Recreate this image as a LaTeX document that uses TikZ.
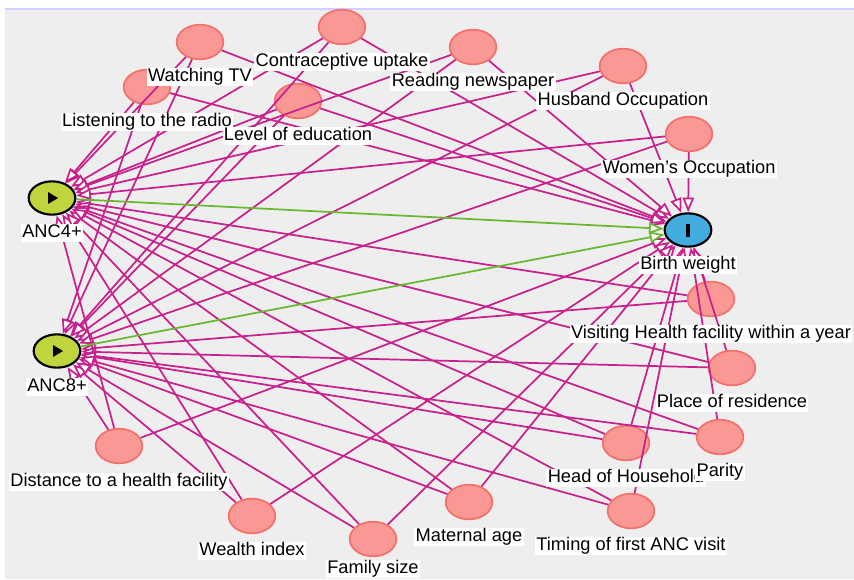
\documentclass[tikz,border=0pt]{standalone}
\usepackage{fontspec}
\setmainfont{Liberation Sans}
\usetikzlibrary{shapes.geometric,arrows.meta}
\definecolor{bgc}{RGB}{238,238,238}
\definecolor{topline}{RGB}{208,208,255}
\definecolor{covfill}{RGB}{250,152,150}
\definecolor{covline}{RGB}{244,112,106}
\definecolor{edgec}{RGB}{200,32,140}
\definecolor{causec}{RGB}{104,184,48}
\definecolor{expfill}{RGB}{192,212,62}
\definecolor{outfill}{RGB}{66,172,222}
\begin{document}
\begin{tikzpicture}[x=0.75pt,y=-0.75pt,
  cov/.style={ellipse,draw=covline,fill=covfill,line width=1.3pt,minimum width=35pt,minimum height=26pt,inner sep=0pt},
  expo/.style={ellipse,draw=black,fill=expfill,line width=1.6pt,minimum width=35pt,minimum height=25pt,inner sep=0pt},
  outc/.style={ellipse,draw=black,fill=outfill,line width=1.6pt,minimum width=35pt,minimum height=25pt,inner sep=0pt},
  lab/.style={fill=white,inner xsep=1pt,inner ysep=0.5pt,text height=10pt,text depth=3pt,font=\fontsize{13.7}{16}\selectfont,text=black},
  edge/.style={draw=edgec,line width=1.3pt,-{Triangle[length=11pt,width=8.5pt,fill=white]}},
  cedge/.style={draw=causec,line width=1.3pt,-{Triangle[length=11pt,width=8.5pt,fill=white]}}
]
\useasboundingbox (0,0) rectangle (854,579);
\fill[white] (0,0) rectangle (854,579);
\fill[bgc] (5,10) rectangle (854,579);
\draw[topline,line width=1.5pt] (5,8.5) -- (854,8.5);

% covariate nodes
\node[cov] (cu) at (342,27) {};
\node[cov] (tv) at (200,42) {};
\node[cov] (rn) at (473,47) {};
\node[cov] (lr) at (147,87) {};
\node[cov] (le) at (298,101) {};
\node[cov] (ho) at (623,66) {};
\node[cov] (wo) at (689,134) {};
\node[cov] (vh) at (711,299) {};
\node[cov] (pr) at (732,368) {};
\node[cov] (dh) at (119,446) {};
\node[cov] (pa) at (720,437) {};
\node[cov] (hh) at (626,443) {};
\node[cov] (wi) at (252,516) {};
\node[cov] (ma) at (469,502) {};
\node[cov] (ti) at (631,511) {};
\node[cov] (fs) at (373,539) {};
% exposures and outcome
\node[expo] (a4) at (52,198) {};
\node[expo] (a8) at (57,351) {};
\node[outc] (bw) at (688,230) {};
\fill[black] (a4) ++(-4,-6) -- ++(10,6) -- ++(-10,6) -- cycle;
\fill[black] (a8) ++(-4,-6) -- ++(10,6) -- ++(-10,6) -- cycle;
\fill[black] (bw) ++(-2,-6.5) rectangle ++(4,13);

% edges
\foreach \c in {cu,tv,rn,lr,le,ho,wo,vh,pr,dh,pa,hh,wi,ma,ti,fs}{
  \draw[edge] (\c) -- (a4);
  \draw[edge] (\c) -- (a8);
  \draw[edge] (\c) -- (bw);
}
\draw[cedge] (a4) -- (bw);
\draw[cedge] (a8) -- (bw);

% labels
\node[lab] (cu-l) at (342,62) {Contraceptive uptake};
\node[lab] (tv-l) at (200,77) {Watching TV};
\node[lab] (rn-l) at (473,82) {Reading newspaper};
\node[lab] (lr-l) at (147,122) {Listening to the radio};
\node[lab] (le-l) at (298,136) {Level of education};
\node[lab] (ho-l) at (623,101) {Husband Occupation};
\node[lab] (wo-l) at (689,169) {Women's Occupation};
\node[lab] (a4-l) at (52,233) {ANC4+};
\node[lab] (bw-l) at (688,265) {Birth weight};
\node[lab] (vh-l) at (711,334) {Visiting Health facility within a year};
\node[lab] (a8-l) at (57,387) {ANC8+};
\node[lab] (pr-l) at (732,403) {Place of residence};
\node[lab] (dh-l) at (119,482) {Distance to a health facility};
\node[lab] (hh-l) at (626,478) {Head of Household};
\node[lab] (pa-l) at (720,472) {Parity};
\node[lab] (wi-l) at (252,551) {Wealth index};
\node[lab] (ma-l) at (469,537) {Maternal age};
\node[lab] (ti-l) at (631,546) {Timing of first ANC visit};
\node[lab] (fs-l) at (373,569) {Family size};
\end{tikzpicture}
\end{document}
